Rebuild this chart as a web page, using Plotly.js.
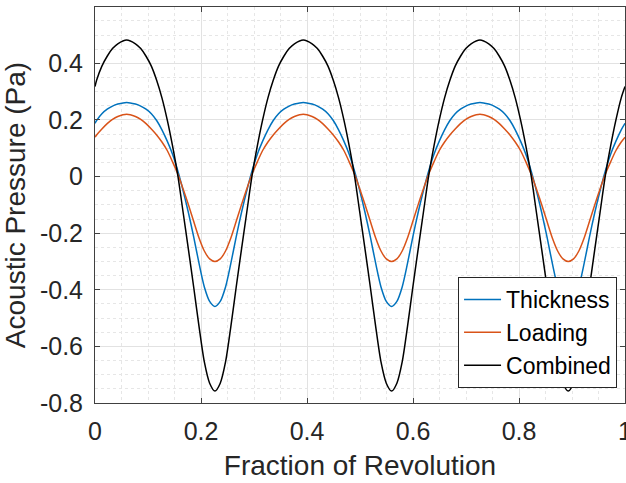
<!DOCTYPE html>
<html><head><meta charset="utf-8">
<script src="https://cdn.plot.ly/plotly-3.0.1.min.js"></script>
<style>html,body{margin:0;padding:0;background:#fff}#chart{width:626px;height:483px}</style>
</head><body><div id="chart"></div>
<script>
const fraction = [
 0, 0.003, 0.013, 0.023, 0.033, 0.043, 0.0597,
 0.0763, 0.0863, 0.0963, 0.1063, 0.1163, 0.1263, 0.1363, 0.1463, 0.1563, 0.1663, 0.1763, 0.1863, 0.1963, 0.2063, 0.2163,
 0.2263,
 0.2363, 0.2463, 0.2563, 0.2663, 0.2763, 0.2863, 0.2963, 0.3063, 0.3163, 0.3263, 0.3363, 0.3463, 0.3563, 0.3663, 0.3763,
 0.3930,
 0.4096, 0.4196, 0.4296, 0.4396, 0.4496, 0.4596, 0.4696, 0.4796, 0.4896, 0.4996, 0.5096, 0.5196, 0.5296, 0.5396, 0.5496,
 0.5596,
 0.5696, 0.5796, 0.5896, 0.5996, 0.6096, 0.6196, 0.6296, 0.6396, 0.6496, 0.6596, 0.6696, 0.6796, 0.6896, 0.6996, 0.7096,
 0.7263,
 0.7429, 0.7529, 0.7629, 0.7729, 0.7829, 0.7929, 0.8029, 0.8129, 0.8229, 0.8329, 0.8429, 0.8529, 0.8629, 0.8729, 0.8829,
 0.8929,
 0.9029, 0.9129, 0.9229, 0.9329, 0.9429, 0.9529, 0.9629, 0.9729, 0.9829, 0.9929, 1.0
];
const thickness = [
 0.188, 0.198, 0.222, 0.238, 0.249, 0.256, 0.262,
 0.256, 0.249, 0.238, 0.222, 0.198, 0.165, 0.125, 0.079, 0.020, -0.050, -0.128, -0.214, -0.307, -0.390, -0.441,
 -0.459,
 -0.441, -0.390, -0.307, -0.214, -0.128, -0.050, 0.020, 0.079, 0.125, 0.165, 0.198, 0.222, 0.238, 0.249, 0.256,
 0.262,
 0.256, 0.249, 0.238, 0.222, 0.198, 0.165, 0.125, 0.079, 0.020, -0.050, -0.128, -0.214, -0.307, -0.390, -0.441,
 -0.459,
 -0.441, -0.390, -0.307, -0.214, -0.128, -0.050, 0.020, 0.079, 0.125, 0.165, 0.198, 0.222, 0.238, 0.249, 0.256,
 0.262,
 0.256, 0.249, 0.238, 0.222, 0.198, 0.165, 0.125, 0.079, 0.020, -0.050, -0.128, -0.214, -0.307, -0.390, -0.441,
 -0.459,
 -0.441, -0.390, -0.307, -0.214, -0.128, -0.050, 0.020, 0.079, 0.125, 0.165, 0.188
];
const loading = [
 0.139, 0.147, 0.168, 0.187, 0.202, 0.212, 0.220,
 0.212, 0.202, 0.187, 0.168, 0.147, 0.122, 0.092, 0.052, 0.009, -0.044, -0.100, -0.159, -0.217, -0.263, -0.291,
 -0.300,
 -0.291, -0.263, -0.217, -0.159, -0.100, -0.044, 0.009, 0.052, 0.092, 0.122, 0.147, 0.168, 0.187, 0.202, 0.212,
 0.220,
 0.212, 0.202, 0.187, 0.168, 0.147, 0.122, 0.092, 0.052, 0.009, -0.044, -0.100, -0.159, -0.217, -0.263, -0.291,
 -0.300,
 -0.291, -0.263, -0.217, -0.159, -0.100, -0.044, 0.009, 0.052, 0.092, 0.122, 0.147, 0.168, 0.187, 0.202, 0.212,
 0.220,
 0.212, 0.202, 0.187, 0.168, 0.147, 0.122, 0.092, 0.052, 0.009, -0.044, -0.100, -0.159, -0.217, -0.263, -0.291,
 -0.300,
 -0.291, -0.263, -0.217, -0.159, -0.100, -0.044, 0.009, 0.052, 0.092, 0.122, 0.139
];
const combined = [
 0.318, 0.340, 0.390, 0.425, 0.452, 0.469, 0.482,
 0.469, 0.452, 0.425, 0.390, 0.340, 0.278, 0.200, 0.108, 0.003, -0.127, -0.258, -0.392, -0.530, -0.655, -0.730,
 -0.758,
 -0.730, -0.655, -0.530, -0.392, -0.258, -0.127, 0.003, 0.108, 0.200, 0.278, 0.340, 0.390, 0.425, 0.452, 0.469,
 0.482,
 0.469, 0.452, 0.425, 0.390, 0.340, 0.278, 0.200, 0.108, 0.003, -0.127, -0.258, -0.392, -0.530, -0.655, -0.730,
 -0.758,
 -0.730, -0.655, -0.530, -0.392, -0.258, -0.127, 0.003, 0.108, 0.200, 0.278, 0.340, 0.390, 0.425, 0.452, 0.469,
 0.482,
 0.469, 0.452, 0.425, 0.390, 0.340, 0.278, 0.200, 0.108, 0.003, -0.127, -0.258, -0.392, -0.530, -0.655, -0.730,
 -0.758,
 -0.730, -0.655, -0.530, -0.392, -0.258, -0.127, 0.003, 0.108, 0.200, 0.278, 0.318
];
const seriesNames = ['Thickness', 'Loading', 'Combined'];
const xTickVals = [0, 0.2, 0.4, 0.6, 0.8, 1];
const xTickText = ['0', '0.2', '0.4', '0.6', '0.8', '1'];
const yTickVals = [-0.8, -0.6, -0.4, -0.2, 0, 0.2, 0.4];
const yTickText = ['-0.8', '-0.6', '-0.4', '-0.2', '0', '0.2', '0.4'];

const FONT = 'Liberation Sans, Arial, Helvetica, sans-serif';
const TXT = '#262626';
const colors = ['#0072BD', '#D95319', '#000000'];
const ys = [thickness, loading, combined];

const traces = ys.map((y, i) => ({
  type: 'scatter', mode: 'lines', name: seriesNames[i],
  x: fraction, y: y,
  line: {color: colors[i], width: 1.5, shape: 'spline', smoothing: 0.8}
}));

const axisCommon = {
  showline: true, linecolor: '#404040', linewidth: 1, mirror: 'ticks',
  ticks: 'inside', ticklen: 5, tickcolor: '#404040', tickwidth: 1,
  showgrid: true, gridcolor: '#e2e2e2', gridwidth: 1,
  zeroline: false, tickmode: 'array', ticklabeloverflow: 'allow',
  tickfont: {family: FONT, size: 25, color: TXT}
};

const layout = {
  width: 626, height: 483,
  margin: {l: 95, r: 1, t: 7, b: 80, pad: 0},
  paper_bgcolor: '#ffffff', plot_bgcolor: '#ffffff',
  showlegend: true,
  font: {family: FONT, color: TXT},
  xaxis: Object.assign({}, axisCommon, {
    range: [0, 1], tickvals: xTickVals, ticktext: xTickText,
    ticklabelstandoff: 6,
    minor: {dtick: 0.05, tick0: 0, showgrid: true, gridcolor: '#e6e6e6', griddash: 'dot', gridwidth: 1, ticks: ''},
    title: {text: 'Fraction of Revolution', font: {family: FONT, size: 28, color: TXT}, standoff: 11}
  }),
  yaxis: Object.assign({}, axisCommon, {
    range: [-0.8, 0.599], tickvals: yTickVals, ticktext: yTickText,
    ticklabelstandoff: 6,
    minor: {dtick: 0.05, tick0: 0, showgrid: true, gridcolor: '#e6e6e6', griddash: 'dot', gridwidth: 1, ticks: ''},
    title: {text: 'Acoustic Pressure (Pa)', font: {family: FONT, size: 28, color: TXT}, standoff: 8}
  }),
  legend: {
    x: 0.985, xanchor: 'right', y: 0.038, yanchor: 'bottom',
    bgcolor: '#ffffff', bordercolor: '#262626', borderwidth: 1,
    font: {family: FONT, size: 23, color: '#000000'},
    itemwidth: 37, tracegroupgap: 0
  }
};

Plotly.newPlot('chart', traces, layout, {staticPlot: true, displayModeBar: false});
</script>
</body></html>
